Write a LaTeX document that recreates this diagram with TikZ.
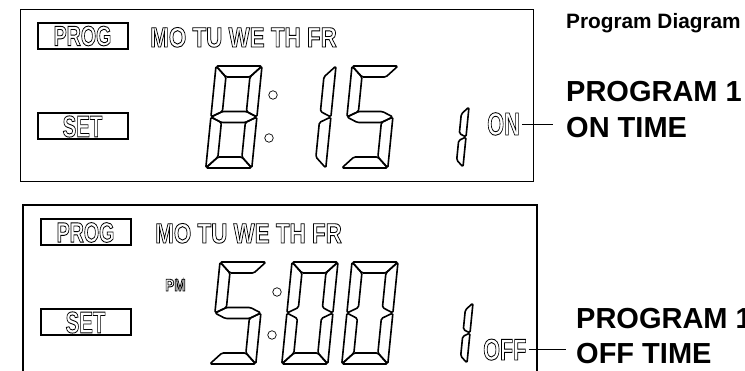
\documentclass[tikz,border=0pt]{standalone}
\usepackage{fontspec}
\setmainfont{Liberation Sans}
\usetikzlibrary{calc}

\newcommand\olt[1]{\special{pdf:literal direct 1 Tr 0.9 w}#1\special{pdf:literal direct 0 Tr}}
\newcommand\lcdtxt[3]{{\fontsize{#1}{#1}\selectfont\bfseries\scalebox{#2}[1]{\olt{#3}}}}

\newcommand\lcdseg[1]{%
  \ifcase#1\relax
    \draw[seg] (0,0)--(\sgW,0)--(\sgW-\sgT,\sgT)--(\sgT,\sgT)--cycle;
  \or
    \draw[seg] (\sgW,0)--(\sgW,\sgM)--(\sgW-\sgT,\sgM-\sgh)--(\sgW-\sgT,\sgT)--cycle;
  \or
    \draw[seg] (\sgW,\sgM)--(\sgW,\sgH)--(\sgW-\sgT,\sgH-\sgT)--(\sgW-\sgT,\sgM+\sgh)--cycle;
  \or
    \draw[seg] (0,\sgH)--(\sgT,\sgH-\sgT)--(\sgW-\sgT,\sgH-\sgT)--(\sgW,\sgH)--cycle;
  \or
    \draw[seg] (0,\sgM)--(\sgT,\sgM+\sgh)--(\sgT,\sgH-\sgT)--(0,\sgH)--cycle;
  \or
    \draw[seg] (0,0)--(\sgT,\sgT)--(\sgT,\sgM-\sgh)--(0,\sgM)--cycle;
  \or
    \draw[seg] (0,\sgM)--(\sgT,\sgM-\sgh)--(\sgW-\sgT,\sgM-\sgh)--(\sgW,\sgM)--(\sgW-\sgT,\sgM+\sgh)--(\sgT,\sgM+\sgh)--cycle;
  \fi}

\newcommand\lcddigit[6]{%
  \begin{scope}[shift={(#1,#2)}, xslant=0.1]
    \pgfmathsetmacro\sgW{#3}\pgfmathsetmacro\sgH{#4}\pgfmathsetmacro\sgT{#5}%
    \pgfmathsetmacro\sgM{#4/2}\pgfmathsetmacro\sgh{#5/2}%
    \foreach \s in {#6}{\lcdseg{\s}}
  \end{scope}}

\begin{document}
\begin{tikzpicture}[x=1pt,y=-1pt,
  seg/.style={draw=black, line width=1.6pt, line join=round, rounded corners=1.5pt},
  frame/.style={draw=black, line width=1.3pt},
  lbox/.style={draw=black, line width=2pt, inner sep=0pt, minimum width=90pt, minimum height=26pt},
  lcd/.style={inner sep=0pt, anchor=base west},
  dot/.style={circle, draw=black, line width=0.7pt, minimum size=8.5pt, inner sep=0pt},
  lbl/.style={font=\fontsize{29}{29}\selectfont\bfseries, inner sep=0pt, anchor=base west},
  conn/.style={draw=black, line width=0.9pt}]
\useasboundingbox (0,0) rectangle (745,371);
\clip (0,0) rectangle (745,371);

% ---------- top display ----------
\node[frame, anchor=north west, minimum width=513pt, minimum height=172pt, inner sep=0pt] (lcdA) at (20,9) {};
\node[lbox] (progA) at (82.5,36) {\lcdtxt{28}{0.7}{PROG}};
\node[lbox] (setA) at (82.5,126.5) {\lcdtxt{30}{0.68}{SET}};
\node[lcd] (daysA) at (150,47) {\lcdtxt{28}{0.8}{MO TU WE TH FR}};
\lcddigit{216}{66}{46}{102}{11}{0,1,2,3,4,5,6}
\node[dot] (colA1) at (273,95) {};
\node[dot] (colA2) at (269,138) {};
\lcddigit{290}{66}{46}{102}{11}{1,2}
\lcddigit{352}{66}{46}{102}{11}{0,5,6,2,3}
\lcddigit{439}{107}{30}{60}{7}{1,2}
\node[lcd] (onA) at (487,135) {\lcdtxt{32}{0.68}{ON}};

% ---------- bottom display ----------
\draw[frame] (23,380) -- (23,205) -- (537,205) -- (537,380);
\node[lbox] (progB) at (85.5,232.5) {\lcdtxt{28}{0.7}{PROG}};
\node[lbox] (setB) at (85.5,322.5) {\lcdtxt{30}{0.68}{SET}};
\node[lcd] (daysB) at (155,243) {\lcdtxt{28}{0.8}{MO TU WE TH FR}};
\node[lcd] (pm) at (165,291) {\lcdtxt{17}{0.8}{PM}};
\lcddigit{220}{262}{46}{102}{11}{0,5,6,2,3}
\node[dot] (colB1) at (277,292) {};
\node[dot] (colB2) at (272,335) {};
\lcddigit{292}{262}{46}{102}{11}{0,1,2,3,4,5}
\lcddigit{352}{262}{46}{102}{11}{0,1,2,3,4,5}
\lcddigit{443}{303}{30}{60}{7}{1,2}
\node[lcd] (offB) at (483,360) {\lcdtxt{30}{0.72}{OFF}};

% ---------- labels ----------
\node[lbl, font=\fontsize{20.8}{20.8}\selectfont\bfseries] (title) at (566,29) {Program Diagram};
\node[lbl] (p1A) at (566,102) {PROGRAM 1};
\node[lbl] (onT) at (566,138) {ON TIME};
\node[lbl] (p1B) at (576,329) {PROGRAM 1};
\node[lbl] (offT) at (576,364) {OFF TIME};

\coordinate (tipA) at (553,0);
\coordinate (tipB) at (566,0);
\draw[conn] ($(onA.east)+(2,0)$) -- (onA.east -| tipA);
\draw[conn] ($(offB.east)+(2,0)$) -- (offB.east -| tipB);
\end{tikzpicture}
\end{document}
